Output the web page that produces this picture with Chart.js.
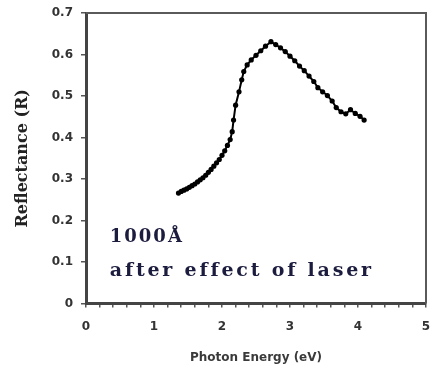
<!DOCTYPE html>
<html>
<head>
<meta charset="utf-8">
<script src="https://cdn.jsdelivr.net/npm/chart.js@4.4.1/dist/chart.umd.min.js"></script>
<style>
  html, body { margin: 0; padding: 0; background: #fff; }
  #wrap { width: 432px; height: 374px; }
</style>
</head>
<body>
<div id="wrap"><canvas id="c" width="432" height="374"></canvas></div>
<script>
// Photon energy (eV) and measured reflectance R
const energy = [
  1.36, 1.40, 1.44, 1.48, 1.52, 1.56, 1.60, 1.64, 1.68, 1.72,
  1.76, 1.80, 1.84, 1.88, 1.92, 1.96, 2.00, 2.04, 2.08, 2.12,
  2.15, 2.17, 2.20, 2.25, 2.29, 2.32, 2.37, 2.43, 2.50, 2.57,
  2.64, 2.72, 2.79, 2.86, 2.93, 3.00, 3.07, 3.14, 3.21, 3.28,
  3.35, 3.41, 3.48, 3.55, 3.62, 3.68, 3.75, 3.82, 3.89, 3.96,
  4.03, 4.09
];
const reflectance = [
  0.266, 0.270, 0.273, 0.276, 0.280, 0.284, 0.288, 0.293, 0.298, 0.303,
  0.309, 0.316, 0.323, 0.331, 0.339, 0.347, 0.357, 0.368, 0.381, 0.395,
  0.414, 0.442, 0.478, 0.510, 0.539, 0.559, 0.575, 0.587, 0.598, 0.609,
  0.620, 0.631, 0.624, 0.616, 0.607, 0.596, 0.585, 0.572, 0.561, 0.548,
  0.535, 0.520, 0.510, 0.501, 0.488, 0.472, 0.462, 0.457, 0.467, 0.458,
  0.451, 0.442
];

// Annotation lines inside the plot
const noteLines = ['1000Å', 'after effect of laser'];
const notePos = [ {x: 0.35, y: 0.148}, {x: 0.35, y: 0.066} ];
const noteFonts = ['bold 18px "DejaVu Serif"', 'bold 19px "DejaVu Serif"'];
const noteSpacing = ['2px', '2.8px'];

const points = energy.map((e, i) => ({ x: e, y: reflectance[i] }));

// closes the plot box on the top and right sides
const frame = {
  id: 'frame',
  beforeDatasetsDraw(chart) {
    const { ctx, chartArea: a } = chart;
    ctx.save();
    ctx.strokeStyle = '#5a5a5a';
    ctx.lineWidth = 2;
    ctx.beginPath();
    ctx.moveTo(a.left, a.top);
    ctx.lineTo(a.right, a.top);
    ctx.lineTo(a.right, a.bottom);
    ctx.stroke();
    ctx.restore();
  }
};

// writes the sample notes at data coordinates
const notes = {
  id: 'notes',
  afterDatasetsDraw(chart) {
    const { ctx, scales } = chart;
    ctx.save();
    ctx.fillStyle = '#1c1c3e';
    ctx.textBaseline = 'alphabetic';
    ctx.textAlign = 'left';
    noteLines.forEach((t, i) => {
      ctx.font = noteFonts[i];
      if ('letterSpacing' in ctx) ctx.letterSpacing = noteSpacing[i];
      ctx.fillText(t, scales.x.getPixelForValue(notePos[i].x), scales.y.getPixelForValue(notePos[i].y));
    });
    ctx.restore();
  }
};

new Chart(document.getElementById('c'), {
  type: 'scatter',
  data: {
    datasets: [{
      data: points,
      showLine: true,
      borderColor: '#000',
      borderWidth: 2,
      pointRadius: 2.6,
      pointBackgroundColor: '#000',
      pointBorderWidth: 0,
      pointHoverRadius: 2.6
    }]
  },
  options: {
    responsive: false,
    animation: false,
    events: [],
    layout: { padding: { top: 13, right: 6, left: 0, bottom: 0 } },
    plugins: { legend: { display: false }, tooltip: { enabled: false } },
    scales: {
      x: {
        type: 'linear',
        min: 0, max: 5,
        afterFit(s) { s.height = 70.5; s.paddingLeft = 0; s.paddingRight = 0; },
        ticks: {
          stepSize: 0.2,
          autoSkip: false,
          maxRotation: 0,
          padding: 12,
          color: '#333',
          font: { family: 'DejaVu Sans', weight: 'bold', size: 12 },
          callback(v) { const r = Math.round(v * 100) / 100; return Number.isInteger(r) ? String(r) : ''; }
        },
        grid: { drawOnChartArea: false, drawTicks: true, tickLength: 4, color: '#555', lineWidth: 1.5 },
        border: { display: true, color: '#444', width: 3 },
        title: {
          display: true,
          text: 'Photon Energy (eV)',
          color: '#3a3a3a',
          font: { family: 'DejaVu Sans', weight: 'bold', size: 12 },
          padding: { top: 0, bottom: 9 }
        }
      },
      y: {
        min: 0, max: 0.7,
        afterFit(s) { s.width = 86; s.paddingTop = 0; s.paddingBottom = 0; },
        ticks: {
          stepSize: 0.1,
          padding: 8,
          color: '#333',
          font: { family: 'DejaVu Sans', weight: 'bold', size: 12 },
          callback(v) { return String(Math.round(v * 10) / 10); }
        },
        grid: { drawOnChartArea: false, drawTicks: true, tickLength: 5, color: '#555', lineWidth: 1.5 },
        border: { display: true, color: '#444', width: 3 },
        title: {
          display: true,
          text: 'Reflectance (R)',
          color: '#222',
          font: { family: 'DejaVu Serif', weight: 'bold', size: 16 },
          padding: { top: 13, bottom: 0 }
        }
      }
    }
  },
  plugins: [frame, notes]
});
</script>
</body>
</html>
